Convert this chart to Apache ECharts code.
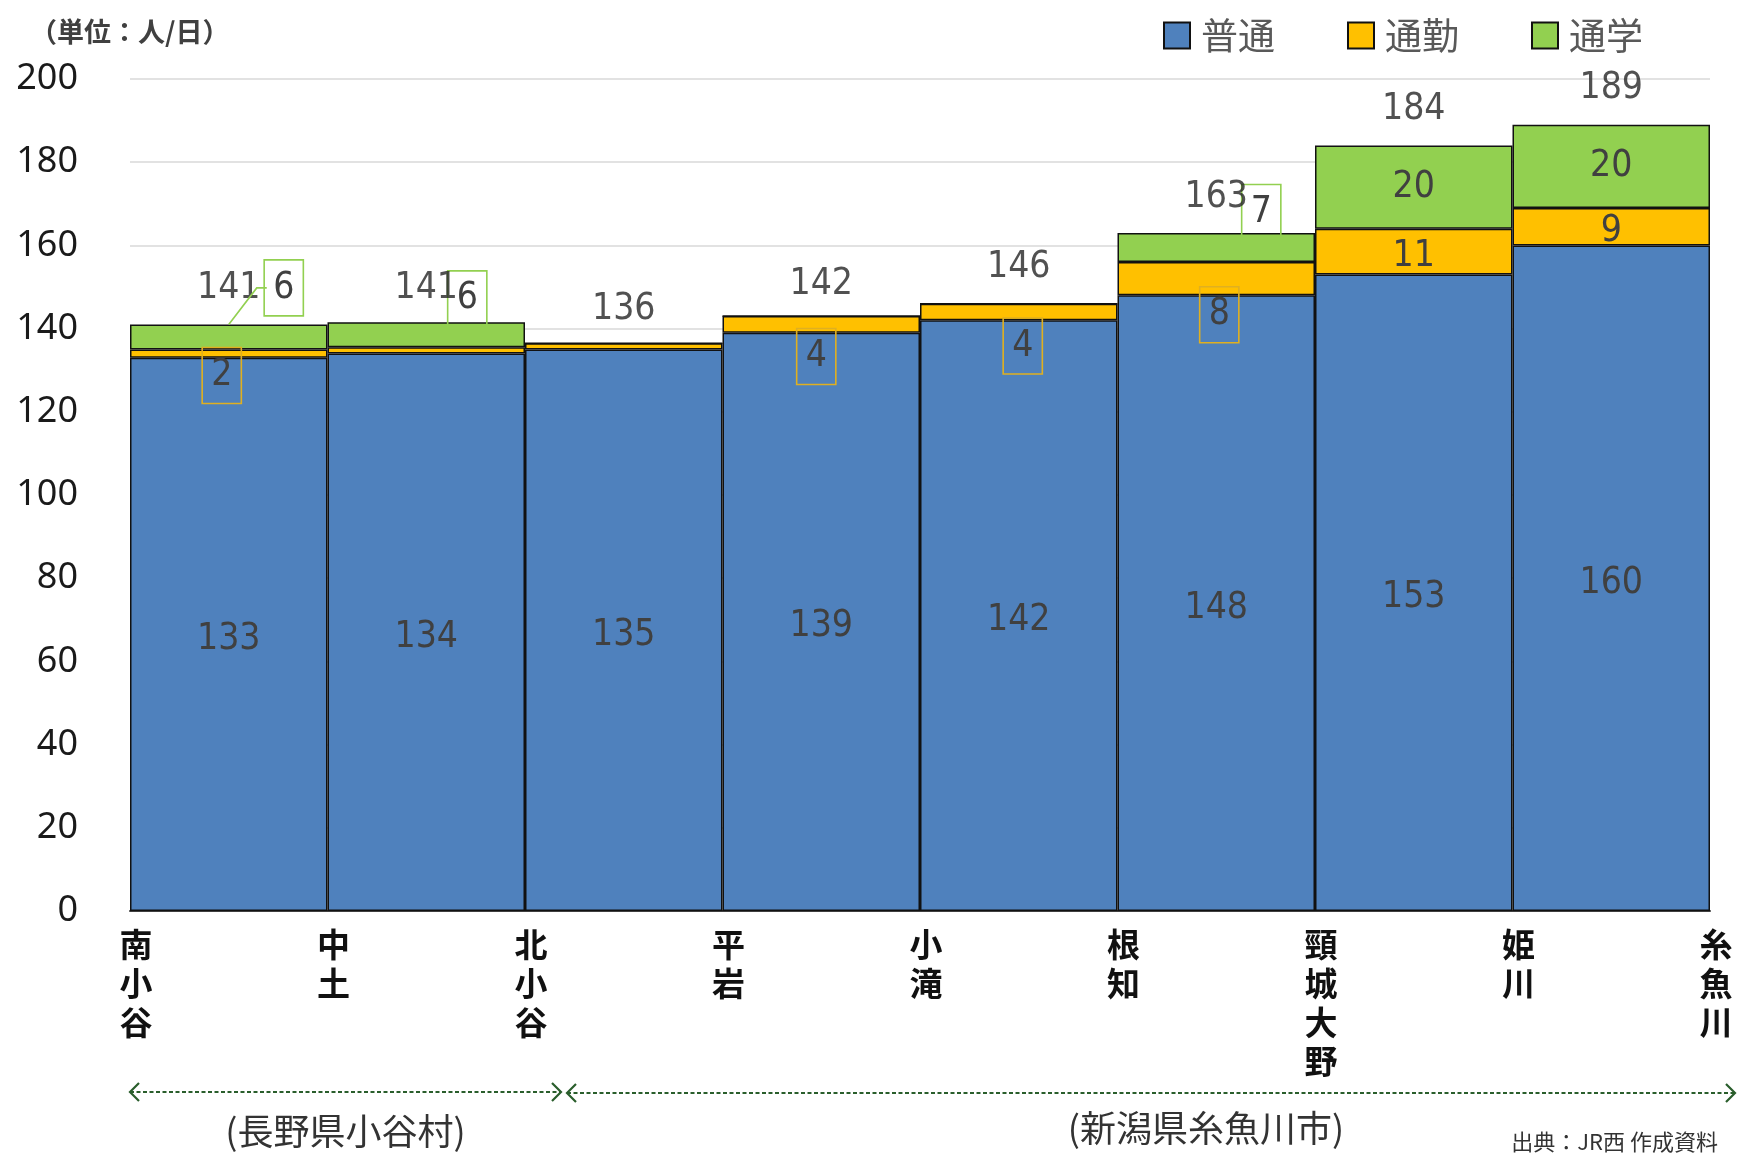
<!DOCTYPE html>
<html><head><meta charset="utf-8">
<script src="https://cdn.jsdelivr.net/npm/echarts@6/dist/echarts.min.js"></script>
<style>html,body{margin:0;padding:0;background:#fff}#c{width:1738px;height:1154px}</style>
</head><body><div id="c"></div>
<script>
// ---- data ----
const stations = ['南小谷','中土','北小谷','平岩','小滝','根知','頸城大野','姫川','糸魚川'];
const seriesNames = ['普通','通勤','通学'];
const futsu   = [133,134,135,139,142,148,153,160];
const tsukin  = [2,1.5,1.5,4,4,8,11,9];
const tsugaku = [6,6,0,0,0,7,20,20];
const totals  = [141,141,136,142,146,163,184,189];
const regions = ['(長野県小谷村)','(新潟県糸魚川市)'];
const sourceText = '出典：JR西 作成資料';
const unitText = '（単位：人/日）';

// ---- styling ----
const colors = ['#4F81BD','#FFC000','#92D050'];
const NARROW = '"Liberation Sans Narrow","Arial Narrow","DejaVu Sans Condensed",sans-serif';
const CJK = '"Noto Sans CJK JP","Noto Sans",sans-serif';
const labelColor = '#404040';
const tsukinCallout  = {0:[-7,22],3:[-5,32],4:[4,34],5:[3,36]};
const tsugakuCallout = {0:[55,-54],1:[41,-41],5:[45,-40]};
const hiddenTsukin = [1,2];
const leaderIndex = 0;
const boxHalfW = 17;

const segs = stations.slice(0,-1).map((s,i)=>s+'-'+stations[i+1]);

function items(vals, callouts, boxColor, hidden, useOffset){
  return vals.map((v,i)=>{
    const it = {value:v};
    if (v === 0 || (hidden && hidden.indexOf(i) >= 0)) it.label = {show:false};
    else if (callouts[i]) {
      it.label = {show:true, borderColor:boxColor, borderWidth:1.6, padding:[11,9,8,9]};
      if (useOffset) it.label.offset = callouts[i];
    }
    return it;
  });
}

const baseLabel = {show:true, position:'inside', offset:[0,5], color:labelColor, fontSize:37, fontFamily:NARROW};
const barStyle = c => ({color:c, borderColor:'#111', borderWidth:1.5});

const chart = echarts.init(document.getElementById('c'), null, {renderer:'canvas'});
const option = {
  animation:false,
  backgroundColor:'#fff',
  grid:{left:130, right:28, top:79, bottom:243},
  legend:{
    data:seriesNames, left:1158, top:12, itemWidth:26, itemHeight:26, itemGap:72,
    icon:'rect',
    textStyle:{fontSize:37, color:'#595959', fontFamily:CJK, padding:[0,0,0,6]}
  },
  xAxis:[
    {type:'category', data:segs, axisLabel:{show:false}, axisTick:{show:false},
     axisLine:{show:true, lineStyle:{color:'#404040', width:2}}},
    {type:'category', data:stations, boundaryGap:false, position:'bottom',
     axisLine:{show:false}, axisTick:{show:false},
     axisLabel:{interval:0, margin:14, fontSize:33, fontWeight:'bold', lineHeight:39,
       color:'#111', fontFamily:CJK, padding:[0,0,0,12],
       formatter:v=>v.split('').join('\n')}}
  ],
  yAxis:{type:'value', min:0, max:200, interval:20,
    axisLine:{show:false}, axisTick:{show:false},
    splitLine:{lineStyle:{color:'#d9d9d9', width:1.5}},
    axisLabel:{fontSize:36, color:'#1a1a1a', fontFamily:'"Noto Sans",sans-serif', margin:52}},
  series:[
    {name:seriesNames[0], type:'bar', stack:'a', barWidth:'100%', barCategoryGap:'0%',
     itemStyle:barStyle(colors[0]), label:baseLabel, data:futsu},
    {name:seriesNames[1], type:'bar', stack:'a', barWidth:'100%',
     itemStyle:barStyle(colors[1]), label:baseLabel,
     data:items(tsukin, tsukinCallout, '#E0B020', hiddenTsukin, true)},
    {name:seriesNames[2], type:'bar', stack:'a', barWidth:'100%',
     itemStyle:barStyle(colors[2]), label:baseLabel,
     labelLayout:function(p){
       const o = tsugakuCallout[p.dataIndex];
       return o ? {dx:o[0], dy:o[1] + 5} : {};
     },
     data:items(tsugaku, tsugakuCallout, '#92D050', null, false)},
    {name:'合計', type:'scatter', symbolSize:1, itemStyle:{color:'rgba(0,0,0,0)'}, silent:true,
     label:{show:true, position:'top', distance:17, color:'#262626', fontSize:37, fontFamily:NARROW, formatter:'{c}'},
     data:totals}
  ]
};
chart.setOption(option);

// decorations: region arrows, leader line and texts
function arrow(x1, x2, y){
  const c = '#2A5E2C', h = 9;
  return {type:'group', children:[
    {type:'line', shape:{x1:x1, y1:y, x2:x2, y2:y}, style:{stroke:c, lineWidth:2, lineDash:[4,2.5]}},
    {type:'polyline', shape:{points:[[x1+h,y-h],[x1,y],[x1+h,y+h]]}, style:{stroke:c, lineWidth:2.2, fill:null}},
    {type:'polyline', shape:{points:[[x2-h,y-h],[x2,y],[x2-h,y+h]]}, style:{stroke:c, lineWidth:2.2, fill:null}}
  ]};
}
const px = name => chart.convertToPixel({xAxisIndex:1}, name);
const xa = px(stations[0]), xb = px(stations[2]), xc = px(stations[8]);
const li = leaderIndex, lo = tsugakuCallout[li];
const stackTop = futsu[li] + tsukin[li] + tsugaku[li];
const pTop = chart.convertToPixel({xAxisIndex:0, yAxisIndex:0}, [segs[li], stackTop]);
const pMid = chart.convertToPixel({xAxisIndex:0, yAxisIndex:0}, [segs[li], stackTop - tsugaku[li]/2]);
const bx = pMid[0] + lo[0] - boxHalfW, by = pMid[1] + lo[1] + 5;
chart.setOption({graphic:[
  arrow(xa, xb + 36, 1092),
  arrow(xb + 42, xc + 25, 1093),
  {type:'polyline', z:10, shape:{points:[[pTop[0], pTop[1]], [bx - 10, by], [bx, by]]},
   style:{stroke:'#92D050', lineWidth:1.6, fill:null}},
  {type:'text', left:30, top:18, style:{text:unitText, fill:'#404040', font:'bold 27px "Noto Sans CJK JP"'}},
  {type:'text', x:(xa + xb + 36)/2, y:1131, style:{text:regions[0], fill:'#333', font:'36px "Noto Sans CJK JP"', align:'center', verticalAlign:'middle'}},
  {type:'text', x:1206, y:1128, style:{text:regions[1], fill:'#333', font:'36px "Noto Sans CJK JP"', align:'center', verticalAlign:'middle'}},
  {type:'text', x:1718, y:1142, style:{text:sourceText, fill:'#333', font:'22px "Noto Sans CJK JP"', align:'right', verticalAlign:'middle'}}
]});
</script></body></html>
